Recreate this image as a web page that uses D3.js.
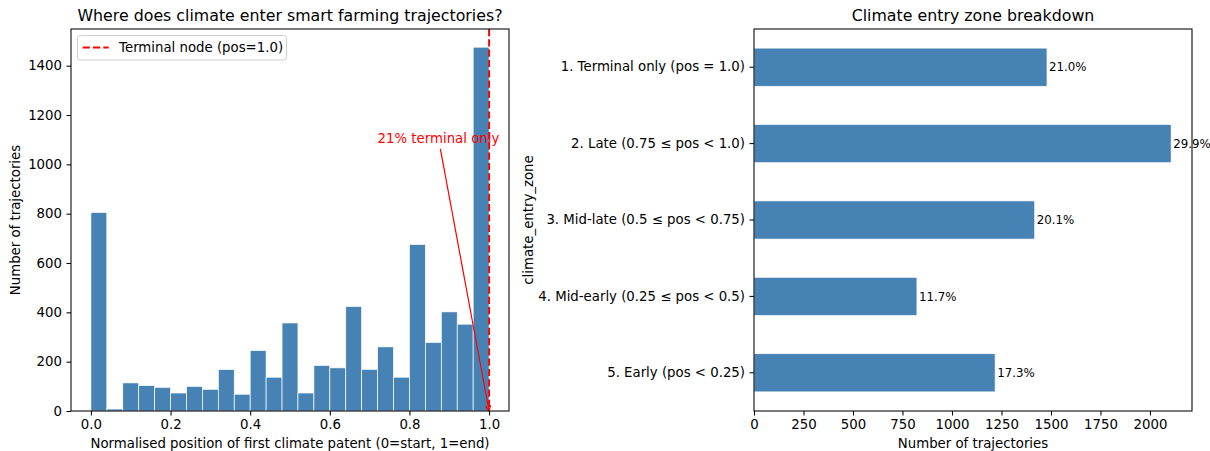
<!DOCTYPE html>
<html>
<head>
<meta charset="utf-8">
<script src="https://cdn.jsdelivr.net/npm/d3@7"></script>
<style>
  body { margin: 0; background: #fff; }
  text { font-family: "DejaVu Sans", sans-serif; fill: #000; }
</style>
</head>
<body>
<svg id="chart" width="1210" height="451"></svg>
<script>
// ---- data ----
// histogram of normalised first-climate position, 25 bins over [0, 1]
var histCounts = [805, 8, 114, 103, 96, 73, 100, 88, 168, 68, 245, 137, 357,
                  73, 185, 175, 424, 169, 260, 137, 675, 278, 402, 352, 1475];
var histXTicks = [0, 0.2, 0.4, 0.6, 0.8, 1.0];
var histYTicks = [0, 200, 400, 600, 800, 1000, 1200, 1400];

var zones = ["1. Terminal only (pos = 1.0)",
             "2. Late (0.75 \u2264 pos < 1.0)",
             "3. Mid-late (0.5 \u2264 pos < 0.75)",
             "4. Mid-early (0.25 \u2264 pos < 0.5)",
             "5. Early (pos < 0.25)"];
var zoneCounts = [1480, 2107, 1418, 823, 1218];
var zonePct = ["21.0%", "29.9%", "20.1%", "11.7%", "17.3%"];
var zoneXTicks = [0, 250, 500, 750, 1000, 1250, 1500, 1750, 2000];

var barColor = "steelblue";
var fs = 13.3;          // 10pt at this scale
var tickLen = 4.5, tickPad = 4.5, lw = 1.05;

var svg = d3.select("#chart");

// ================= left: histogram =================
var L = {x0: 71, x1: 509, y0: 29, y1: 411};
var nBins = histCounts.length;
var x = d3.scaleLinear().domain([-0.05, 1.05]).range([L.x0, L.x1]);
var y = d3.scaleLinear().domain([0, d3.max(histCounts) * 1.05]).range([L.y1, L.y0]);

var g1 = svg.append("g");
g1.selectAll("rect.bin").data(histCounts).enter().append("rect")
    .attr("class", "bin")
    .attr("x", function (d, i) { return x(i / nBins); })
    .attr("width", function (d, i) { return x((i + 1) / nBins) - x(i / nBins); })
    .attr("y", function (d) { return y(d); })
    .attr("height", function (d) { return y(0) - y(d); })
    .attr("fill", barColor)
    .attr("stroke", "#fff")
    .attr("stroke-width", 0.7);

// terminal node line
g1.append("line")
    .attr("x1", x(1)).attr("x2", x(1))
    .attr("y1", L.y0).attr("y2", L.y1)
    .attr("stroke", "red").attr("stroke-width", 1.95)
    .attr("stroke-dasharray", "7.2,3.1");

// annotation
var ann = g1.append("text")
    .attr("x", x(0.72)).attr("y", y(1085))
    .style("font-size", fs + "px").style("fill", "red")
    .text("21% terminal only");
var bb = ann.node().getBBox();
var cx = bb.x + bb.width / 2, cy = bb.y + bb.height / 2;
var tx = x(1), ty = y(0);
var dx = tx - cx, dy = ty - cy;
// leave the text box through the bottom edge, then shrink a bit
var t0 = (bb.y + bb.height - cy) / dy;
var len = Math.sqrt(dx * dx + dy * dy);
var sx = cx + dx * t0 + dx / len * 2.6, sy = cy + dy * t0 + dy / len * 2.6;
g1.append("line")
    .attr("x1", sx).attr("y1", sy).attr("x2", tx).attr("y2", ty)
    .attr("stroke", "red").attr("stroke-width", 1.2);
var ang = Math.atan2(dy, dx);
var hl = 5.5, hw = 2.6;
function headPt(s) {
  return [tx - hl * Math.cos(ang) + s * hw * Math.sin(ang),
          ty - hl * Math.sin(ang) - s * hw * Math.cos(ang)];
}
g1.append("path")
    .attr("d", d3.line()([headPt(1), [tx, ty], headPt(-1)]))
    .attr("fill", "none").attr("stroke", "red").attr("stroke-width", 1.2);

// axes
var xa1 = g1.append("g").attr("transform", "translate(0," + L.y1 + ")")
    .call(d3.axisBottom(x).tickValues(histXTicks).tickFormat(d3.format(".1f"))
          .tickSize(tickLen).tickPadding(tickPad));
var ya1 = g1.append("g").attr("transform", "translate(" + L.x0 + ",0)")
    .call(d3.axisLeft(y).tickValues(histYTicks).tickFormat(d3.format("d"))
          .tickSize(tickLen).tickPadding(tickPad));
[xa1, ya1].forEach(function (a) {
  a.select(".domain").remove();
  a.selectAll("line").attr("stroke", "#000").attr("stroke-width", lw);
  a.selectAll("text").style("font-size", fs + "px").style("font-family", "DejaVu Sans");
});
g1.append("rect")
    .attr("x", L.x0).attr("y", L.y0).attr("width", L.x1 - L.x0).attr("height", L.y1 - L.y0)
    .attr("fill", "none").attr("stroke", "#000").attr("stroke-width", lw);

// legend
var lg = g1.append("g").attr("transform", "translate(" + (L.x0 + 6.5) + "," + (L.y0 + 6.5) + ")");
lg.append("rect").attr("width", 209).attr("height", 24.5).attr("rx", 2.6)
    .attr("fill", "#fff").attr("fill-opacity", 0.8)
    .attr("stroke", "#d0d0d0").attr("stroke-width", 1);
lg.append("line").attr("x1", 5.2).attr("x2", 31.2).attr("y1", 12).attr("y2", 12)
    .attr("stroke", "red").attr("stroke-width", 1.95).attr("stroke-dasharray", "7.2,3.1");
lg.append("text").attr("x", 41.6).attr("y", 16.8).style("font-size", fs + "px")
    .text("Terminal node (pos=1.0)");

// titles / labels
g1.append("text").attr("x", (L.x0 + L.x1) / 2).attr("y", 21).attr("text-anchor", "middle")
    .style("font-size", "15.8px").text("Where does climate enter smart farming trajectories?");
g1.append("text").attr("x", (L.x0 + L.x1) / 2).attr("y", 448).attr("text-anchor", "middle")
    .style("font-size", fs + "px").text("Normalised position of first climate patent (0=start, 1=end)");
g1.append("text").attr("transform", "translate(20," + (L.y0 + L.y1) / 2 + ") rotate(-90)")
    .attr("text-anchor", "middle").style("font-size", fs + "px").text("Number of trajectories");

// ================= right: zone breakdown =================
var R = {x0: 754, x1: 1192, y0: 29, y1: 411};
var xr = d3.scaleLinear().domain([0, d3.max(zoneCounts) * 1.05]).range([R.x0, R.x1]);
var yr = d3.scaleBand().domain(zones).range([R.y0, R.y1]).paddingInner(0.5).paddingOuter(0.25);

var g2 = svg.append("g");
g2.selectAll("rect.zone").data(zoneCounts).enter().append("rect")
    .attr("class", "zone")
    .attr("x", xr(0))
    .attr("y", function (d, i) { return yr(zones[i]); })
    .attr("width", function (d) { return xr(d) - xr(0); })
    .attr("height", yr.bandwidth())
    .attr("fill", barColor)
    .attr("stroke", "#fff").attr("stroke-width", 0.7);

g2.selectAll("text.pct").data(zoneCounts).enter().append("text")
    .attr("class", "pct")
    .attr("x", function (d) { return xr(d) + 2; })
    .attr("y", function (d, i) { return yr(zones[i]) + yr.bandwidth() / 2; })
    .attr("dy", "0.36em")
    .style("font-size", "11.8px")
    .text(function (d, i) { return zonePct[i]; });

var xa2 = g2.append("g").attr("transform", "translate(0," + R.y1 + ")")
    .call(d3.axisBottom(xr).tickValues(zoneXTicks).tickFormat(d3.format("d"))
          .tickSize(tickLen).tickPadding(tickPad));
var ya2 = g2.append("g").attr("transform", "translate(" + R.x0 + ",0)")
    .call(d3.axisLeft(yr).tickSize(tickLen).tickPadding(tickPad));
[xa2, ya2].forEach(function (a) {
  a.select(".domain").remove();
  a.selectAll("line").attr("stroke", "#000").attr("stroke-width", lw);
  a.selectAll("text").style("font-size", fs + "px").style("font-family", "DejaVu Sans");
});
g2.append("rect")
    .attr("x", R.x0).attr("y", R.y0).attr("width", R.x1 - R.x0).attr("height", R.y1 - R.y0)
    .attr("fill", "none").attr("stroke", "#000").attr("stroke-width", lw);

g2.append("text").attr("x", (R.x0 + R.x1) / 2).attr("y", 21).attr("text-anchor", "middle")
    .style("font-size", "15.8px").text("Climate entry zone breakdown");
g2.append("text").attr("x", (R.x0 + R.x1) / 2).attr("y", 448).attr("text-anchor", "middle")
    .style("font-size", fs + "px").text("Number of trajectories");
g2.append("text").attr("transform", "translate(533," + (R.y0 + R.y1) / 2 + ") rotate(-90)")
    .attr("text-anchor", "middle").style("font-size", fs + "px").text("climate_entry_zone");
</script>
</body>
</html>
